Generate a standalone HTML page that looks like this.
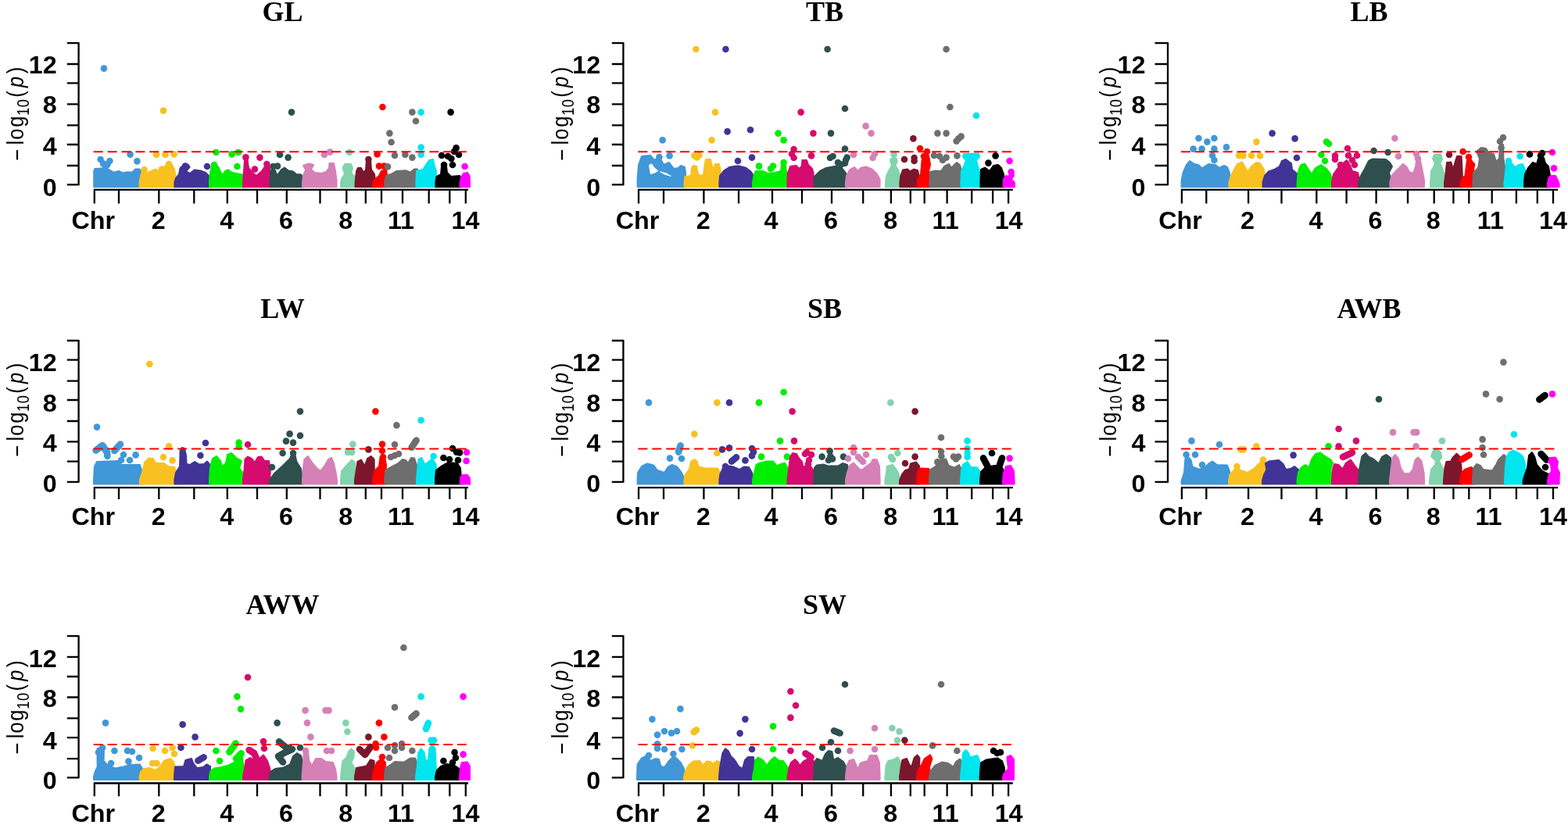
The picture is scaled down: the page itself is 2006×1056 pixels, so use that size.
<!DOCTYPE html>
<html lang="en">
<head>
<meta charset="utf-8">
<title>Manhattan plots</title>
<style>
html,body{margin:0;padding:0;background:#fff}
body{width:2006px;height:1056px;overflow:hidden}
svg{display:block}
text{fill:#000}
.b{font-family:"Liberation Sans",sans-serif;font-weight:bold;font-size:30.5px}
.r{font-family:"Liberation Sans",sans-serif;font-size:30px}
.sub{font-size:21.5px}
.t{font-family:"Liberation Serif",serif;font-weight:bold;font-size:36px}
</style>
</head>
<body>
<svg width="2006" height="1056" viewBox="0 0 2006 1056">
<rect width="2006" height="1056" fill="#fff"/>
<g transform="translate(0 0)">
<g fill="#4197d8"><path d="M120.2 239.2L120.2 219L121.4 216L130.6 215.6L135 217L140 217.4L145 220.6L152 219L157.4 221.4L163 220.2L169 220.6L173 216.6L178.6 216.6L180 219L180 239.2Z" stroke="#4197d8" stroke-width="2" stroke-linejoin="round"/><circle cx="133" cy="87.6" r="4.3"/><circle cx="166.6" cy="197.6" r="4.3"/><circle cx="175.4" cy="206.4" r="4.3"/><circle cx="128.6" cy="204" r="4.3"/><circle cx="140.4" cy="206" r="4.3"/><circle cx="132" cy="209.4" r="4.3"/><circle cx="137.4" cy="210.6" r="4.3"/><circle cx="135" cy="214.6" r="4.3"/></g>
<g fill="#f8c120"><path d="M178.6 239.2L178.6 232L181 222L189 221L194 218.6L199 216.6L203 219L209 215L213 211L220 211L223 217L224.6 225L224.6 239.2Z" stroke="#f8c120" stroke-width="2" stroke-linejoin="round"/><circle cx="209" cy="141.6" r="4.3"/><circle cx="200" cy="198" r="4.3"/><circle cx="211.4" cy="198" r="4.3"/><circle cx="222.6" cy="197.4" r="4.3"/><circle cx="184.6" cy="217.4" r="4.3"/><circle cx="216" cy="210" r="4.3"/><circle cx="207" cy="216.6" r="4.3"/></g>
<g fill="#413496"><path d="M223.4 239.2L223.4 233L225 228L229 223L230.6 215L235 211.4L241 211L242.6 214L238 219L243 222L249 217.4L257 218.6L263 221L268 226L270 229L270 239.2Z" stroke="#413496" stroke-width="2" stroke-linejoin="round"/><circle cx="237" cy="212.6" r="4.3"/><circle cx="265" cy="213" r="4.3"/></g>
<g fill="#00ee00"><path d="M268 239.2L268 232L269 221L271 213L277 211L280 215L282 220L285 224L288 219L292 217.4L297 221L305 222.6L312 224L314 228L314 239.2Z" stroke="#00ee00" stroke-width="2" stroke-linejoin="round"/><circle cx="276.4" cy="195" r="4.3"/><circle cx="296.6" cy="197.4" r="4.3"/><circle cx="305" cy="195" r="4.3"/><circle cx="274" cy="211" r="4.3"/><circle cx="303.4" cy="213" r="4.3"/></g>
<g fill="#d60b6f"><path d="M311 239.2L311 233L312 219L313 205L316.6 205L318 215L323 221L328 225L335 219L339 213L344 212L346 219L346 239.2Z" stroke="#d60b6f" stroke-width="2" stroke-linejoin="round"/><circle cx="314.4" cy="201.4" r="4.3"/><circle cx="332.4" cy="201.6" r="4.3"/><circle cx="326" cy="216.6" r="4.3"/><circle cx="341.4" cy="210" r="4.3"/></g>
<g fill="#2f4f4f"><path d="M345.6 239.2L345.6 233L346 219L352 220L355 224L360 217L364 214.6L369 218.6L375 219.4L379 223L385 223.4L387.6 227L387.6 239.2Z" stroke="#2f4f4f" stroke-width="2" stroke-linejoin="round"/><circle cx="373" cy="143.6" r="4.3"/><circle cx="358" cy="198" r="4.3"/><circle cx="368.6" cy="201.6" r="4.3"/><circle cx="349.4" cy="213" r="4.3"/><circle cx="355" cy="212.6" r="4.3"/><circle cx="349.4" cy="220" r="4.3"/></g>
<g fill="#d581b7"><path d="M387 239.2L387 233L388 225L391 217L388 212L395 209.4L401 211L398 217L403 221L411 222L417 220L421 215L421.4 209L427 209L429 219L430.6 231L430.6 239.2Z" stroke="#d581b7" stroke-width="2" stroke-linejoin="round"/><circle cx="415" cy="198" r="4.3"/><circle cx="422" cy="194.6" r="4.3"/></g>
<g fill="#83d3ad"><path d="M436 239.2L436 233L437 229L441 223L438.6 215L441 210L449 210L451 215L449.4 222L454 226L455.4 231L455.4 239.2Z" stroke="#83d3ad" stroke-width="2" stroke-linejoin="round"/><circle cx="447" cy="195" r="4.3"/></g>
<g fill="#7c162c"><path d="M454.6 239.2L454.6 233L456 219L458 215L462 215L465 221L468 217L469 205L474 205L475 217L479 223L480 231L480 239.2Z" stroke="#7c162c" stroke-width="2" stroke-linejoin="round"/><circle cx="471.4" cy="204" r="4.3"/></g>
<g fill="#ff0000"><path d="M477 239.2L477 234L479 230L485 225L488 219L494 217L495 223L492 229L494 237L494 239.2Z" stroke="#ff0000" stroke-width="2" stroke-linejoin="round"/><circle cx="489.4" cy="137" r="4.3"/><circle cx="482.6" cy="197.4" r="4.3"/><circle cx="485" cy="212.6" r="4.3"/><circle cx="491.4" cy="212.6" r="4.3"/></g>
<g fill="#6e6e6e"><path d="M492.4 239.2L492.4 233L494 225L501 222.6L507 219L519 218.2L525 220.6L530 216.6L534 216.6L534 239.2Z" stroke="#6e6e6e" stroke-width="2" stroke-linejoin="round"/><circle cx="527.4" cy="143.6" r="4.3"/><circle cx="532" cy="155" r="4.3"/><circle cx="498.4" cy="170.6" r="4.3"/><circle cx="500.6" cy="182" r="4.3"/><circle cx="505" cy="199" r="4.3"/><circle cx="518.4" cy="198" r="4.3"/><circle cx="527.4" cy="201.6" r="4.3"/><circle cx="496" cy="213.4" r="4.3"/></g>
<g fill="#00e5ee"><path d="M532.4 239.2L532.4 233L533 219L541 217L545 211L549 205L554 204L556 213L558 219L558 239.2Z" stroke="#00e5ee" stroke-width="2" stroke-linejoin="round"/><circle cx="538.6" cy="143.6" r="4.3"/><circle cx="538.6" cy="188.6" r="4.3"/><circle cx="538.6" cy="198" r="4.3"/></g>
<g fill="#000000"><path d="M557.4 239.2L557.4 233L558.6 226L564 223L565 213L571 213L572 221L577 226L588 225L590 229L590 239.2Z" stroke="#000000" stroke-width="2" stroke-linejoin="round"/><circle cx="576.6" cy="143.6" r="4.3"/><circle cx="583.6" cy="189.4" r="4.3"/><circle cx="581" cy="194" r="4.3"/><circle cx="587" cy="198" r="4.3"/><circle cx="565" cy="199" r="4.3"/><circle cx="573" cy="200" r="4.3"/><circle cx="568" cy="211" r="4.3"/><circle cx="579" cy="211" r="4.3"/><circle cx="577.4" cy="203" r="4.3"/></g>
<g fill="#ff00ff"><path d="M588.6 239.2L588.6 234L590 227L593 222L598 221L600.6 225L601 234L601 239.2Z" stroke="#ff00ff" stroke-width="2" stroke-linejoin="round"/><circle cx="594.6" cy="213" r="4.3"/></g>
<path d="M119.7 194.2 H596.7" stroke="#ff0000" stroke-width="2" stroke-dasharray="12 5.9" fill="none"/>
<path d="M100.6 54.2 V237.3M85.8 236.3 H100.6M85.8 212 H100.6M85.8 185 H100.6M85.8 160.4 H100.6M85.8 133.3 H100.6M85.8 106.3 H100.6M85.8 82 H100.6M85.8 55.2 H100.6M119.8 242.9 H599M120.8 242.9 V260.4M152 242.9 V260.4M203.3 242.9 V260.4M248.3 242.9 V260.4M290.8 242.9 V260.4M329 242.9 V260.4M366.8 242.9 V260.4M409.5 242.9 V260.4M443.3 242.9 V260.4M467.8 242.9 V260.4M488 242.9 V260.4M515 242.9 V260.4M548.7 242.9 V260.4M575.3 242.9 V260.4M595.8 242.9 V260.4" stroke="#000" stroke-width="2.3" fill="none"/>
<text class="b" transform="translate(72.6 251.2) scale(1.06 1)" text-anchor="end">0</text>
<text class="b" transform="translate(72.6 198.4) scale(1.06 1)" text-anchor="end">4</text>
<text class="b" transform="translate(72.6 145.3) scale(1.06 1)" text-anchor="end">8</text>
<text class="b" transform="translate(72.6 94.4) scale(1.06 1)" text-anchor="end">12</text>
<text class="b" transform="translate(119.3 293.3) scale(1.06 1)" text-anchor="middle">Chr</text>
<text class="b" transform="translate(202.8 293.3) scale(1.06 1)" text-anchor="middle">2</text>
<text class="b" transform="translate(290.3 293.3) scale(1.06 1)" text-anchor="middle">4</text>
<text class="b" transform="translate(366 293.3) scale(1.06 1)" text-anchor="middle">6</text>
<text class="b" transform="translate(442.3 293.3) scale(1.06 1)" text-anchor="middle">8</text>
<text class="b" transform="translate(513 293.3) scale(1.06 1)" text-anchor="middle">11</text>
<text class="b" transform="translate(595.4 293.3) scale(1.06 1)" text-anchor="middle">14</text>
<text class="r" transform="translate(29.8 206.1) rotate(-90) scale(0.85 1)" x="0.4 24.3 32.3 50.9" dy="2 -2 0 0">−log<tspan class="sub" x="68.5 81" dy="7">10</tspan><tspan x="95.7" dy="-7">(</tspan><tspan font-style="italic" x="110.7">p</tspan><tspan x="131.7">)</tspan></text>
<text class="t" x="361.5" y="26.8" text-anchor="middle">GL</text>
</g>
<g transform="translate(696.8 0)">
<g fill="#4197d8"><path d="M118.8 239.2L118.8 229L120.2 211L124.2 200L135.2 199L140.2 205L144.2 203L148.2 203L152.2 211L159.2 208L165.2 216L171.2 215L174.2 212L179.2 214L180.2 221L180.2 239.2Z" stroke="#4197d8" stroke-width="2" stroke-linejoin="round"/><path d="M133.6 211.4L136.8 209.8L140 214.6L144.8 218.6L141.2 221L135.6 222.6Z" fill="#fff" stroke="#fff" stroke-width="1" stroke-linejoin="round"/><path d="M147.6 219.8L155.2 221.8L161.6 225.4L154.4 223.4Z" fill="#fff" stroke="#fff" stroke-width="1" stroke-linejoin="round"/><circle cx="150.8" cy="179.4" r="4.3"/><circle cx="146.6" cy="201" r="4.3"/><circle cx="159.8" cy="199.4" r="4.3"/></g>
<g fill="#f8c120"><path d="M178.8 239.2L178.8 233L179.6 226L187.2 225L188.2 215L190.2 212L194.2 212.6L195.6 221L198.2 225L203.2 224L204.8 211L206.2 204L212.2 204L214.2 213L217.2 215L218.2 210L223.2 210L224.8 217L225.2 233L225.2 239.2Z" stroke="#f8c120" stroke-width="2" stroke-linejoin="round"/><circle cx="193.6" cy="63" r="4.3"/><circle cx="218.2" cy="143.6" r="4.3"/><circle cx="213.8" cy="179.4" r="4.3"/><circle cx="191.6" cy="199.4" r="4.3"/><circle cx="197.6" cy="198.6" r="4.3"/><circle cx="194.8" cy="201.4" r="4.3"/></g>
<g fill="#413496"><path d="M223.6 239.2L223.6 233L224.2 225L229.2 218.6L236.2 214L245.2 212.6L249.2 212.6L257.2 214.6L264.2 220L267.6 226L267.6 239.2Z" stroke="#413496" stroke-width="2" stroke-linejoin="round"/><circle cx="231.6" cy="63" r="4.3"/><circle cx="233.8" cy="168.4" r="4.3"/><circle cx="263.2" cy="166.2" r="4.3"/><circle cx="247.2" cy="206" r="4.3"/><circle cx="265.2" cy="201.6" r="4.3"/></g>
<g fill="#00ee00"><path d="M266.2 239.2L266.2 234L267.6 225L270.2 219L279.2 219L285.2 222L295.2 221L302.2 219L303.2 211L308.2 211L309.2 221L311.2 225L311.2 239.2Z" stroke="#00ee00" stroke-width="2" stroke-linejoin="round"/><circle cx="298.8" cy="170.6" r="4.3"/><circle cx="305.8" cy="179.4" r="4.3"/><circle cx="274.2" cy="212.6" r="4.3"/><circle cx="292.2" cy="212.6" r="4.3"/><circle cx="289.2" cy="216" r="4.3"/><circle cx="305.8" cy="208" r="4.3"/></g>
<g fill="#d60b6f"><path d="M310.6 239.2L310.6 233L311.2 221L314.2 213L322.2 212L325.2 216L328.8 213L329.6 205L335.2 205L337.2 211L342.2 216L343.8 221L343.8 239.2Z" stroke="#d60b6f" stroke-width="2" stroke-linejoin="round"/><circle cx="327.8" cy="143.6" r="4.3"/><circle cx="343.6" cy="170.6" r="4.3"/><circle cx="318.8" cy="191" r="4.3"/><circle cx="316.2" cy="197" r="4.3"/><circle cx="318.8" cy="202" r="4.3"/><circle cx="341.2" cy="199.4" r="4.3"/></g>
<g fill="#2f4f4f"><path d="M344.6 239.2L344.6 233L345.2 226L352.2 219L360.2 215L373.2 212.6L380.2 215L384.2 220L386.8 225L386.8 239.2Z" stroke="#2f4f4f" stroke-width="2" stroke-linejoin="round"/><circle cx="361.8" cy="63" r="4.3"/><circle cx="384.2" cy="139" r="4.3"/><circle cx="366.2" cy="170.6" r="4.3"/><circle cx="384.2" cy="190.6" r="4.3"/><circle cx="368.8" cy="200" r="4.3"/><circle cx="365.2" cy="202" r="4.3"/><circle cx="386.8" cy="201.6" r="4.3"/><circle cx="375.2" cy="208" r="4.3"/><circle cx="384.2" cy="209" r="4.3"/><circle cx="385.2" cy="205" r="4.3"/><circle cx="379.2" cy="210.6" r="4.3"/></g>
<g fill="#d581b7"><path d="M385.2 239.2L385.2 233L386.2 225L390.2 217.4L396.2 214L400.8 219L404.2 215L411.2 213.4L419.2 216.6L425.2 223L428.8 230L428.8 239.2Z" stroke="#d581b7" stroke-width="2" stroke-linejoin="round"/><circle cx="410.8" cy="161.4" r="4.3"/><circle cx="417.8" cy="170.6" r="4.3"/><circle cx="395.2" cy="198" r="4.3"/><circle cx="422.2" cy="197" r="4.3"/><circle cx="419.8" cy="202" r="4.3"/></g>
<g fill="#83d3ad"><path d="M436.2 239.2L436.2 233L437.2 225L441.2 217L444.2 212L442.2 205L443.2 203L450.2 203L450.8 207L448.8 212L452.2 218L455.2 227L455.2 239.2Z" stroke="#83d3ad" stroke-width="2" stroke-linejoin="round"/><circle cx="446.8" cy="198" r="4.3"/></g>
<g fill="#7c162c"><path d="M454.6 239.2L454.6 233L455.6 225L458.2 217.4L464.2 216.6L467.6 219.4L472.2 216.6L477.2 218L478.8 225L478.8 239.2Z" stroke="#7c162c" stroke-width="2" stroke-linejoin="round"/><circle cx="471.6" cy="177.4" r="4.3"/><circle cx="460.2" cy="204" r="4.3"/><circle cx="472.8" cy="202" r="4.3"/><circle cx="472.8" cy="206" r="4.3"/></g>
<g fill="#ff0000"><path d="M476.8 239.2L476.8 234L477.6 229L481.2 223L482.8 205L484.2 199L491.2 199L493.2 211L491.2 219L491.2 229L493.2 235L493.2 239.2Z" stroke="#ff0000" stroke-width="2" stroke-linejoin="round"/><circle cx="480.2" cy="190" r="4.3"/><circle cx="489.2" cy="194" r="4.3"/><circle cx="485.2" cy="200" r="4.3"/></g>
<g fill="#6e6e6e"><path d="M492.6 239.2L492.6 233L493.2 220L499.2 218.6L507.2 219L511.2 213L517.2 210L520.2 215L524.2 211L527.2 208L531.2 211L533.2 219L534.2 225L534.2 239.2Z" stroke="#6e6e6e" stroke-width="2" stroke-linejoin="round"/><circle cx="513.8" cy="63" r="4.3"/><circle cx="518.6" cy="137" r="4.3"/><circle cx="502.6" cy="170.6" r="4.3"/><circle cx="513.8" cy="170.6" r="4.3"/><circle cx="526.8" cy="180.6" r="4.3"/><circle cx="529.6" cy="177.4" r="4.3"/><circle cx="532.8" cy="174.6" r="4.3"/><circle cx="498.2" cy="199" r="4.3"/><circle cx="505.2" cy="200" r="4.3"/><circle cx="513.8" cy="201.6" r="4.3"/><circle cx="509.2" cy="205" r="4.3"/><circle cx="527.6" cy="199.4" r="4.3"/></g>
<g fill="#00e5ee"><path d="M532.6 239.2L532.6 233L533.2 219L536.2 213L539.2 205L535.2 201L536.2 197L555.2 196.6L556.2 201L552.2 205L554.2 213L557.2 221L558.2 229L558.2 239.2Z" stroke="#00e5ee" stroke-width="2" stroke-linejoin="round"/><circle cx="552.2" cy="148" r="4.3"/></g>
<g fill="#000000"><path d="M557.6 239.2L557.6 233L558.2 217L563.2 214.6L569.2 219L574.2 212L580.2 211L584.2 215L587.2 223L588.2 231L588.2 239.2Z" stroke="#000000" stroke-width="2" stroke-linejoin="round"/><circle cx="576.8" cy="199.4" r="4.3"/><circle cx="567.6" cy="208.6" r="4.3"/></g>
<g fill="#ff00ff"><path d="M586.8 239.2L586.8 235L587.2 229L590.2 225L594.2 226L595.2 221L599.2 219L600.2 225L597.2 229L601.2 234L601.2 239.2Z" stroke="#ff00ff" stroke-width="2" stroke-linejoin="round"/><circle cx="594.8" cy="206" r="4.3"/><circle cx="596.8" cy="220" r="4.3"/></g>
<path d="M119.6 194.2 H597.2" stroke="#ff0000" stroke-width="2" stroke-dasharray="12 5.9" fill="none"/>
<path d="M100.6 54.2 V237.3M86 236.3 H100.6M86 212 H100.6M86 185 H100.6M86 160.4 H100.6M86 133.3 H100.6M86 106.3 H100.6M86 82 H100.6M86 55.2 H100.6M119.2 242.9 H599M120.2 242.9 V260.4M152.2 242.9 V260.4M203.6 242.9 V260.4M248.2 242.9 V260.4M291.2 242.9 V260.4M329.2 242.9 V260.4M367.2 242.9 V260.4M407.4 242.9 V260.4M443.1 242.9 V260.4M468 242.9 V260.4M485.9 242.9 V260.4M514.8 242.9 V260.4M546.4 242.9 V260.4M573.3 242.9 V260.4M593.3 242.9 V260.4" stroke="#000" stroke-width="2.3" fill="none"/>
<text class="b" transform="translate(71.4 251.2) scale(1.06 1)" text-anchor="end">0</text>
<text class="b" transform="translate(71.4 198.4) scale(1.06 1)" text-anchor="end">4</text>
<text class="b" transform="translate(71.4 145.3) scale(1.06 1)" text-anchor="end">8</text>
<text class="b" transform="translate(71.4 94.4) scale(1.06 1)" text-anchor="end">12</text>
<text class="b" transform="translate(118.7 293.3) scale(1.06 1)" text-anchor="middle">Chr</text>
<text class="b" transform="translate(203 293.3) scale(1.06 1)" text-anchor="middle">2</text>
<text class="b" transform="translate(289.8 293.3) scale(1.06 1)" text-anchor="middle">4</text>
<text class="b" transform="translate(366.1 293.3) scale(1.06 1)" text-anchor="middle">6</text>
<text class="b" transform="translate(442.4 293.3) scale(1.06 1)" text-anchor="middle">8</text>
<text class="b" transform="translate(512.8 293.3) scale(1.06 1)" text-anchor="middle">11</text>
<text class="b" transform="translate(593.8 293.3) scale(1.06 1)" text-anchor="middle">14</text>
<text class="r" transform="translate(29.8 206.1) rotate(-90) scale(0.85 1)" x="0.4 24.3 32.3 50.9" dy="2 -2 0 0">−log<tspan class="sub" x="68.5 81" dy="7">10</tspan><tspan x="95.7" dy="-7">(</tspan><tspan font-style="italic" x="110.7">p</tspan><tspan x="131.7">)</tspan></text>
<text class="t" x="358.3" y="26.8" text-anchor="middle">TB</text>
</g>
<g transform="translate(1393.4 0)">
<g fill="#4197d8"><path d="M118.2 239.2L118.2 231L120.2 221L124.6 211L128.6 206L134.6 210L139.6 211L144.6 215.4L152.6 210L161.6 211L166.6 215L172.6 212L176.6 214L179.6 221L179.6 239.2Z" stroke="#4197d8" stroke-width="2" stroke-linejoin="round"/><circle cx="140" cy="177" r="4.3"/><circle cx="160" cy="177" r="4.3"/><circle cx="151" cy="181.6" r="4.3"/><circle cx="133.2" cy="190.6" r="4.3"/><circle cx="144.2" cy="190.6" r="4.3"/><circle cx="160" cy="190.6" r="4.3"/><circle cx="175.6" cy="188.4" r="4.3"/><circle cx="157.6" cy="199" r="4.3"/><circle cx="160" cy="205" r="4.3"/></g>
<g fill="#f8c120"><path d="M179 239.2L179 233L181.6 225L185.6 217L189.6 210L195.6 207.4L199.6 214L202.6 220L207.6 213L213.6 208L218.6 209L223.6 217L225 227L225 239.2Z" stroke="#f8c120" stroke-width="2" stroke-linejoin="round"/><circle cx="214" cy="181.6" r="4.3"/><circle cx="191.6" cy="199" r="4.3"/><circle cx="197" cy="199.4" r="4.3"/><circle cx="207.6" cy="199" r="4.3"/><circle cx="218.6" cy="199.4" r="4.3"/></g>
<g fill="#413496"><path d="M222.2 239.2L222.2 233L224.6 225L229.6 219.4L237.6 216.6L243.6 213L246.6 206L251.6 204L258.6 209.4L259.6 217L265.6 222L267.6 227L267.6 239.2Z" stroke="#413496" stroke-width="2" stroke-linejoin="round"/><circle cx="234.2" cy="170.6" r="4.3"/><circle cx="263.2" cy="177.4" r="4.3"/><circle cx="265.6" cy="202" r="4.3"/></g>
<g fill="#00ee00"><path d="M266.2 239.2L266.2 234L267.6 219L270.6 211.4L275.6 209.4L280.6 217L284.6 223L289.6 215L296.6 211L303.6 216L308.6 223L311.6 231L311.6 239.2Z" stroke="#00ee00" stroke-width="2" stroke-linejoin="round"/><circle cx="303.6" cy="181.6" r="4.3"/><circle cx="306.6" cy="184" r="4.3"/><circle cx="297" cy="198" r="4.3"/><circle cx="301.6" cy="206" r="4.3"/></g>
<g fill="#d60b6f"><path d="M310.6 239.2L310.6 233L312.6 223L317.6 216L323.6 210L329.6 205L333.6 211L336.6 219L343.6 221L345.6 229L345.6 239.2Z" stroke="#d60b6f" stroke-width="2" stroke-linejoin="round"/><circle cx="330.6" cy="190" r="4.3"/><circle cx="314.6" cy="199.4" r="4.3"/><circle cx="331.6" cy="199" r="4.3"/><circle cx="342.6" cy="199" r="4.3"/><circle cx="314.6" cy="204" r="4.3"/><circle cx="336.6" cy="205" r="4.3"/><circle cx="339.6" cy="211" r="4.3"/><circle cx="321.6" cy="211" r="4.3"/></g>
<g fill="#2f4f4f"><path d="M344.6 239.2L344.6 233L347.6 225L352.6 216L357.6 206L362.6 203.4L379.6 204L384.6 208L387.6 213L383.6 221L386.6 231L386.6 239.2Z" stroke="#2f4f4f" stroke-width="2" stroke-linejoin="round"/><circle cx="364.2" cy="193" r="4.3"/><circle cx="382.2" cy="195" r="4.3"/></g>
<g fill="#d581b7"><path d="M385 239.2L385 233L387.6 224L394.6 217L401.6 210L405.6 213L409.6 220L414.6 222L417.6 213L419 205L423.6 206L425.6 215L428.6 231L428.6 239.2Z" stroke="#d581b7" stroke-width="2" stroke-linejoin="round"/><circle cx="391" cy="177" r="4.3"/><circle cx="395.6" cy="200" r="4.3"/><circle cx="418.6" cy="197" r="4.3"/><circle cx="420.6" cy="203" r="4.3"/></g>
<g fill="#83d3ad"><path d="M436.6 239.2L436.6 234L437.6 219L440.6 214L442.6 209L439.6 203L441.6 198L449.6 197.4L451.6 203L449 209L451.6 215L453.6 221L454.6 231L454.6 239.2Z" stroke="#83d3ad" stroke-width="2" stroke-linejoin="round"/></g>
<g fill="#7c162c"><path d="M454.6 239.2L454.6 234L456.2 221L457.6 208L463 207.4L465.6 217L469 205L470.6 200L476.2 200L477 215L477.6 231L477.6 239.2Z" stroke="#7c162c" stroke-width="2" stroke-linejoin="round"/><circle cx="460.6" cy="198" r="4.3"/></g>
<g fill="#ff0000"><path d="M475 239.2L475 235L476.6 229L481 225L482.2 215L483.6 205L487.6 203L492.6 211L491.6 219L490.6 233L490.6 239.2Z" stroke="#ff0000" stroke-width="2" stroke-linejoin="round"/><circle cx="478.2" cy="194" r="4.3"/><circle cx="485.6" cy="201" r="4.3"/><circle cx="489.6" cy="211" r="4.3"/></g>
<g fill="#6e6e6e"><path d="M491 239.2L491 233L491.6 221L497.6 215L499.6 203L495.6 194L501.6 189L507.6 190L511.6 196L517.6 197L520.6 207L524.6 203L525.6 185L529.6 185L530 203L531.6 213L533.6 225L533.6 239.2Z" stroke="#6e6e6e" stroke-width="2" stroke-linejoin="round"/><circle cx="529.6" cy="176" r="4.3"/><circle cx="525.6" cy="181" r="4.3"/><circle cx="527.2" cy="189" r="4.3"/></g>
<g fill="#00e5ee"><path d="M531 239.2L531 234L532.6 221L533.6 209L536.6 204L540.6 209L544.6 214L549.6 211L554.6 210L557.6 217L558.6 233L558.6 239.2Z" stroke="#00e5ee" stroke-width="2" stroke-linejoin="round"/><circle cx="551.2" cy="200" r="4.3"/><circle cx="536.6" cy="206" r="4.3"/></g>
<g fill="#000000"><path d="M556.6 239.2L556.6 234L557.6 223L561.6 215L567.6 208L572.6 210L574.6 203L581.6 202L583.6 209L587.6 213L589.6 225L589.6 239.2Z" stroke="#000000" stroke-width="2" stroke-linejoin="round"/><circle cx="563.6" cy="197.4" r="4.3"/><circle cx="577.6" cy="199" r="4.3"/><circle cx="579.6" cy="196" r="4.3"/></g>
<g fill="#ff00ff"><path d="M586.6 239.2L586.6 235L587.6 228L590.6 225L596.6 225L599.6 231L601.2 235L601.2 239.2Z" stroke="#ff00ff" stroke-width="2" stroke-linejoin="round"/><circle cx="592.6" cy="195" r="4.3"/><circle cx="594.6" cy="215.4" r="4.3"/></g>
<path d="M117.6 194.2 H595.2" stroke="#ff0000" stroke-width="2" stroke-dasharray="12 5.9" fill="none"/>
<path d="M100.6 54.2 V237.3M84.1 236.3 H100.6M84.1 212 H100.6M84.1 185 H100.6M84.1 160.4 H100.6M84.1 133.3 H100.6M84.1 106.3 H100.6M84.1 82 H100.6M84.1 55.2 H100.6M117.5 242.9 H599.7M118.5 242.9 V260.4M149.9 242.9 V260.4M203.7 242.9 V260.4M246.1 242.9 V260.4M290.9 242.9 V260.4M329.2 242.9 V260.4M367.2 242.9 V260.4M407.6 242.9 V260.4M441.3 242.9 V260.4M466 242.9 V260.4M485.9 242.9 V260.4M515.3 242.9 V260.4M546.5 242.9 V260.4M573.4 242.9 V260.4M593.6 242.9 V260.4" stroke="#000" stroke-width="2.3" fill="none"/>
<text class="b" transform="translate(72 251.2) scale(1.06 1)" text-anchor="end">0</text>
<text class="b" transform="translate(72 198.4) scale(1.06 1)" text-anchor="end">4</text>
<text class="b" transform="translate(72 145.3) scale(1.06 1)" text-anchor="end">8</text>
<text class="b" transform="translate(72 94.4) scale(1.06 1)" text-anchor="end">12</text>
<text class="b" transform="translate(116.6 293.3) scale(1.06 1)" text-anchor="middle">Chr</text>
<text class="b" transform="translate(202.7 293.3) scale(1.06 1)" text-anchor="middle">2</text>
<text class="b" transform="translate(290.2 293.3) scale(1.06 1)" text-anchor="middle">4</text>
<text class="b" transform="translate(366.2 293.3) scale(1.06 1)" text-anchor="middle">6</text>
<text class="b" transform="translate(440.4 293.3) scale(1.06 1)" text-anchor="middle">8</text>
<text class="b" transform="translate(513.5 293.3) scale(1.06 1)" text-anchor="middle">11</text>
<text class="b" transform="translate(593.6 293.3) scale(1.06 1)" text-anchor="middle">14</text>
<text class="r" transform="translate(34.3 206.1) rotate(-90) scale(0.85 1)" x="0.4 24.3 32.3 50.9" dy="2 -2 0 0">−log<tspan class="sub" x="68.5 81" dy="7">10</tspan><tspan x="95.7" dy="-7">(</tspan><tspan font-style="italic" x="110.7">p</tspan><tspan x="131.7">)</tspan></text>
<text class="t" x="358" y="26.8" text-anchor="middle">LB</text>
</g>
<g transform="translate(0 0)">
<g fill="#4197d8"><path d="M120 619.5L120 613L121 597L124 591L151 590L155 595L179 595L182 605L182 619.5Z" stroke="#4197d8" stroke-width="2" stroke-linejoin="round"/><circle cx="124" cy="546.6" r="4.3"/><circle cx="158" cy="582" r="4.3"/><circle cx="173.6" cy="582.4" r="4.3"/><circle cx="166" cy="589" r="4.3"/><circle cx="155" cy="589" r="4.3"/><path d="M122.6 576.6L131 570L137 579L137.4 584" fill="none" stroke="#4197d8" stroke-width="8.6" stroke-linecap="round" stroke-linejoin="round"/><path d="M146.4 577L154 568.6" fill="none" stroke="#4197d8" stroke-width="8.6" stroke-linecap="round" stroke-linejoin="round"/></g>
<g fill="#f8c120"><path d="M179 619.5L179 614L182 605L185 592L190 586.6L196 587L199 592.6L210 593L215 597L223 598L226 605L226 619.5Z" stroke="#f8c120" stroke-width="2" stroke-linejoin="round"/><circle cx="191.4" cy="466" r="4.3"/><circle cx="216" cy="571.4" r="4.3"/><circle cx="209" cy="585" r="4.3"/><circle cx="220.6" cy="589.4" r="4.3"/></g>
<g fill="#413496"><path d="M223.4 619.5L223.4 614L225 605L230 597L230.6 577L233 573L236 574L238 583L238.6 594L243 595L249 591L255 594.6L261 594L265 590.6L268.6 595L269.4 613L269.4 619.5Z" stroke="#413496" stroke-width="2" stroke-linejoin="round"/><circle cx="263" cy="567" r="4.3"/><circle cx="256.4" cy="583" r="4.3"/></g>
<g fill="#00ee00"><path d="M268 619.5L268 614L269 599L272 587L277 584L282 590L284 597L289 593L291 582L296 580L302 586L309 590L306 599L313 608L311 614L311 619.5Z" stroke="#00ee00" stroke-width="2" stroke-linejoin="round"/><circle cx="305.6" cy="566.6" r="4.3"/><circle cx="305.6" cy="572" r="4.3"/></g>
<g fill="#d60b6f"><path d="M311 619.5L311 614L312.6 601L313.4 588L317 584.6L322 587L326 592L330 585L334.6 584.6L338.6 590L344 590L346 601L345 614L345 619.5Z" stroke="#d60b6f" stroke-width="2" stroke-linejoin="round"/><circle cx="317" cy="569" r="4.3"/></g>
<g fill="#2f4f4f"><path d="M345 619.5L345 614L351 606L363 595L371 587L373 582L377.4 582L379.4 591L385 600L387 613L387 619.5Z" stroke="#2f4f4f" stroke-width="2" stroke-linejoin="round"/><circle cx="384" cy="526.6" r="4.3"/><circle cx="370.6" cy="555.4" r="4.3"/><circle cx="384" cy="557.6" r="4.3"/><circle cx="366" cy="564.6" r="4.3"/><circle cx="375" cy="566.6" r="4.3"/><circle cx="361.6" cy="580" r="4.3"/><circle cx="375" cy="580" r="4.3"/><circle cx="348" cy="598" r="4.3"/></g>
<g fill="#d581b7"><path d="M387 619.5L387 614L388 599L389.4 588L394 584L399 592L405 599L410 603L415 597L420 588L424 586L427 593L430 607L431 614L431 619.5Z" stroke="#d581b7" stroke-width="2" stroke-linejoin="round"/></g>
<g fill="#83d3ad"><path d="M436 619.5L436 614L437 603L444 595L450 588.6L454 592L455 614L455 619.5Z" stroke="#83d3ad" stroke-width="2" stroke-linejoin="round"/><circle cx="451.4" cy="568.6" r="4.3"/><circle cx="445" cy="579" r="4.3"/><circle cx="450" cy="579" r="4.3"/></g>
<g fill="#7c162c"><path d="M454 619.5L454 614L456 601L457.4 591L462 588.6L466.6 596.6L470 587L474.6 584L478.6 588L479 614L479 619.5Z" stroke="#7c162c" stroke-width="2" stroke-linejoin="round"/><circle cx="471.4" cy="575.4" r="4.3"/></g>
<g fill="#ff0000"><path d="M477 619.5L477 615L479 603L485 597L486.6 585L492 585L494 595L493 614L493 619.5Z" stroke="#ff0000" stroke-width="2" stroke-linejoin="round"/><circle cx="480.4" cy="526.6" r="4.3"/><circle cx="489" cy="568.6" r="4.3"/><circle cx="489" cy="577" r="4.3"/><circle cx="490" cy="585" r="4.3"/></g>
<g fill="#6e6e6e"><path d="M492.4 619.5L492.4 614L493 602L501 597.4L509 593.4L515 588L519 589L522 593L526 586L530 586.6L533 595L534 614L534 619.5Z" stroke="#6e6e6e" stroke-width="2" stroke-linejoin="round"/><circle cx="507.4" cy="544.4" r="4.3"/><circle cx="505" cy="569" r="4.3"/><circle cx="510" cy="581" r="4.3"/><circle cx="500" cy="585" r="4.3"/><circle cx="505" cy="583" r="4.3"/><path d="M526.6 572.6L532.6 563.6" fill="none" stroke="#6e6e6e" stroke-width="8.6" stroke-linecap="round" stroke-linejoin="round"/></g>
<g fill="#00e5ee"><path d="M533 619.5L533 614L534.4 599L535.4 588L539.4 586L543.4 595L548 591.4L553 587.4L557.4 594L559 605L558 614L558 619.5Z" stroke="#00e5ee" stroke-width="2" stroke-linejoin="round"/><circle cx="538.6" cy="538" r="4.3"/><circle cx="554.6" cy="584" r="4.3"/></g>
<g fill="#000000"><path d="M557 619.5L557 614L558 602L565 596.6L573 592L585 593L589 599L590 614L590 619.5Z" stroke="#000000" stroke-width="2" stroke-linejoin="round"/><circle cx="579" cy="574" r="4.3"/><circle cx="584" cy="578.6" r="4.3"/><circle cx="588" cy="579.4" r="4.3"/><circle cx="567.4" cy="586" r="4.3"/><circle cx="575" cy="588" r="4.3"/><circle cx="586" cy="589" r="4.3"/></g>
<g fill="#ff00ff"><path d="M588.6 619.5L588.6 620L589 611L592 608L598 608L601 612L601 620L601 619.5Z" stroke="#ff00ff" stroke-width="2" stroke-linejoin="round"/><circle cx="597" cy="579" r="4.3"/><circle cx="596.6" cy="590" r="4.3"/></g>
<path d="M119.7 574.5 H596.7" stroke="#ff0000" stroke-width="2" stroke-dasharray="12 5.9" fill="none"/>
<path d="M100.6 435 V617.8M85.8 616.8 H100.6M85.8 590.7 H100.6M85.8 565.3 H100.6M85.8 539 H100.6M85.8 512 H100.6M85.8 487.7 H100.6M85.8 460.7 H100.6M85.8 436 H100.6M119.8 624.1 H599M120.8 624.1 V639.1M152 624.1 V639.1M203.3 624.1 V639.1M248.3 624.1 V639.1M290.8 624.1 V639.1M329 624.1 V639.1M366.8 624.1 V639.1M409.5 624.1 V639.1M443.3 624.1 V639.1M467.8 624.1 V639.1M488 624.1 V639.1M515 624.1 V639.1M548.7 624.1 V639.1M575.3 624.1 V639.1M595.8 624.1 V639.1" stroke="#000" stroke-width="2.3" fill="none"/>
<text class="b" transform="translate(72.6 629.9) scale(1.06 1)" text-anchor="end">0</text>
<text class="b" transform="translate(72.6 578) scale(1.06 1)" text-anchor="end">4</text>
<text class="b" transform="translate(72.6 526.6) scale(1.06 1)" text-anchor="end">8</text>
<text class="b" transform="translate(72.6 475.1) scale(1.06 1)" text-anchor="end">12</text>
<text class="b" transform="translate(119.3 672) scale(1.06 1)" text-anchor="middle">Chr</text>
<text class="b" transform="translate(202.8 672) scale(1.06 1)" text-anchor="middle">2</text>
<text class="b" transform="translate(290.3 672) scale(1.06 1)" text-anchor="middle">4</text>
<text class="b" transform="translate(366 672) scale(1.06 1)" text-anchor="middle">6</text>
<text class="b" transform="translate(442.3 672) scale(1.06 1)" text-anchor="middle">8</text>
<text class="b" transform="translate(513 672) scale(1.06 1)" text-anchor="middle">11</text>
<text class="b" transform="translate(595.4 672) scale(1.06 1)" text-anchor="middle">14</text>
<text class="r" transform="translate(29.8 585.1) rotate(-90) scale(0.85 1)" x="0.4 24.3 32.3 50.9" dy="2 -2 0 0">−log<tspan class="sub" x="68.5 81" dy="7">10</tspan><tspan x="95.7" dy="-7">(</tspan><tspan font-style="italic" x="110.7">p</tspan><tspan x="131.7">)</tspan></text>
<text class="t" x="361.5" y="406.5" text-anchor="middle">LW</text>
</g>
<g transform="translate(696.8 0)">
<g fill="#4197d8"><path d="M118.8 619.5L118.8 614L119.2 605L124.2 597L131.2 593.4L139.2 595.4L144.2 602L153.2 605L157.6 598L163.2 595L169.2 597.4L175.2 605L178.2 612L178.2 619.5Z" stroke="#4197d8" stroke-width="2" stroke-linejoin="round"/><circle cx="133.2" cy="515.4" r="4.3"/><circle cx="160.2" cy="586.6" r="4.3"/><circle cx="175.2" cy="587" r="4.3"/><path d="M173.8 570.4L171.2 578.6" fill="none" stroke="#4197d8" stroke-width="8.6" stroke-linecap="round" stroke-linejoin="round"/></g>
<g fill="#f8c120"><path d="M178.6 619.5L178.6 614L179.6 608L185.2 600.6L187.2 591L191.6 588L195.2 591L196.8 597.4L205.2 599.4L221.2 599.4L224.6 605L224.8 614L224.8 619.5Z" stroke="#f8c120" stroke-width="2" stroke-linejoin="round"/><circle cx="220.6" cy="515.4" r="4.3"/><circle cx="191.6" cy="555.6" r="4.3"/><circle cx="220.6" cy="580" r="4.3"/></g>
<g fill="#413496"><path d="M223.6 619.5L223.6 614L224.6 607L228.2 599L233.2 596L241.2 597.4L249.2 601L255.2 597.4L261.2 598L265.2 605L267.6 614L267.6 619.5Z" stroke="#413496" stroke-width="2" stroke-linejoin="round"/><circle cx="236.2" cy="515.4" r="4.3"/><circle cx="227.2" cy="575.4" r="4.3"/><circle cx="236.2" cy="573.4" r="4.3"/><circle cx="265.2" cy="574" r="4.3"/><circle cx="267.2" cy="578.6" r="4.3"/><circle cx="265.2" cy="583.4" r="4.3"/><circle cx="256.6" cy="589.4" r="4.3"/><circle cx="231.2" cy="597" r="4.3"/><path d="M239.2 590.6L245.2 585.4" fill="none" stroke="#413496" stroke-width="8.6" stroke-linecap="round" stroke-linejoin="round"/></g>
<g fill="#00ee00"><path d="M266.2 619.5L266.2 614L268.2 605L270.8 595L275.2 592.6L283.2 590.6L292.2 590.6L297.2 596.6L302.2 594L307.2 592.6L310.8 599L311.2 614L311.2 619.5Z" stroke="#00ee00" stroke-width="2" stroke-linejoin="round"/><circle cx="305.8" cy="502" r="4.3"/><circle cx="274.2" cy="515.4" r="4.3"/><circle cx="301.2" cy="564.4" r="4.3"/><circle cx="277.2" cy="584.6" r="4.3"/><circle cx="310.2" cy="584.6" r="4.3"/></g>
<g fill="#d60b6f"><path d="M310.6 619.5L310.6 614L312.2 601L314.2 585L317.2 580L322.2 581L324.8 586L329.2 591L330.8 598L335.2 596L341.2 598L345.2 605L344.2 614L344.2 619.5Z" stroke="#d60b6f" stroke-width="2" stroke-linejoin="round"/><circle cx="316.8" cy="526.6" r="4.3"/><circle cx="319.2" cy="564.4" r="4.3"/><circle cx="335.2" cy="579" r="4.3"/><circle cx="341.2" cy="582" r="4.3"/><circle cx="338.2" cy="589" r="4.3"/><circle cx="333.2" cy="581" r="4.3"/><circle cx="337.2" cy="594" r="4.3"/></g>
<g fill="#2f4f4f"><path d="M344.2 619.5L344.2 614L345.2 599L348.2 595.4L357.2 594.6L363.2 596.6L375.2 596.6L381.2 593L387.2 595L388.2 601L385.2 607L385.2 614L385.2 619.5Z" stroke="#2f4f4f" stroke-width="2" stroke-linejoin="round"/><circle cx="364.8" cy="577.4" r="4.3"/><circle cx="365.6" cy="584" r="4.3"/><circle cx="368.2" cy="587.4" r="4.3"/><circle cx="363.2" cy="589" r="4.3"/><circle cx="354.8" cy="584.6" r="4.3"/><circle cx="382.2" cy="584.6" r="4.3"/></g>
<g fill="#d581b7"><path d="M385.2 619.5L385.2 614L387.2 605L390.2 596L395.2 592.6L401.2 599L405.2 602L411.2 597.4L417.2 593L420.2 588L425.2 588.6L428.2 597L428.8 614L428.8 619.5Z" stroke="#d581b7" stroke-width="2" stroke-linejoin="round"/><circle cx="395.2" cy="573" r="4.3"/><circle cx="395.2" cy="579" r="4.3"/><circle cx="411.2" cy="582" r="4.3"/><circle cx="388.2" cy="587" r="4.3"/><circle cx="401.2" cy="585" r="4.3"/><circle cx="407.2" cy="591" r="4.3"/><circle cx="404.2" cy="588" r="4.3"/></g>
<g fill="#83d3ad"><path d="M435.6 619.5L435.6 614L437.2 605L438.2 596.6L445.2 595L449.2 600L452.2 605L454.8 614L454.8 619.5Z" stroke="#83d3ad" stroke-width="2" stroke-linejoin="round"/><circle cx="442.6" cy="515.4" r="4.3"/><circle cx="451.6" cy="580" r="4.3"/><circle cx="443.2" cy="585" r="4.3"/><circle cx="445.2" cy="588" r="4.3"/></g>
<g fill="#7c162c"><path d="M454.2 619.5L454.2 615L457.2 607L461.2 602L466.2 600.6L468.2 593.4L475.2 591.4L479.2 596.6L478.8 615L478.8 619.5Z" stroke="#7c162c" stroke-width="2" stroke-linejoin="round"/><circle cx="473.8" cy="526.6" r="4.3"/><circle cx="473.8" cy="584.6" r="4.3"/><circle cx="461.2" cy="593" r="4.3"/></g>
<g fill="#ff0000"><path d="M476.2 619.5L476.2 615L477.2 604L480.2 599.4L491.2 600L493.2 605L493.2 615L493.2 619.5Z" stroke="#ff0000" stroke-width="2" stroke-linejoin="round"/></g>
<g fill="#6e6e6e"><path d="M492.2 619.5L492.2 615L493.2 601L500.2 597L504.2 590L513.2 587.4L516.8 596L524.2 598.6L530.2 595L533.2 601L533.2 615L533.2 619.5Z" stroke="#6e6e6e" stroke-width="2" stroke-linejoin="round"/><circle cx="507.2" cy="560" r="4.3"/><circle cx="507.2" cy="578" r="4.3"/><circle cx="523.2" cy="584.6" r="4.3"/><circle cx="529.2" cy="584.6" r="4.3"/><circle cx="526.2" cy="587.4" r="4.3"/><circle cx="502.6" cy="591.4" r="4.3"/><circle cx="507.6" cy="584" r="4.3"/></g>
<g fill="#00e5ee"><path d="M532.2 619.5L532.2 615L533.2 603L535.2 594.6L540.8 591L545.2 598L553.2 598.6L557.2 604L557.6 615L557.6 619.5Z" stroke="#00e5ee" stroke-width="2" stroke-linejoin="round"/><circle cx="540.8" cy="564.4" r="4.3"/><circle cx="540.8" cy="574" r="4.3"/><circle cx="540.8" cy="580" r="4.3"/><circle cx="540.8" cy="585" r="4.3"/></g>
<g fill="#000000"><path d="M557.2 619.5L557.2 615L558.2 604L565.2 597L577.2 596L585.2 598.6L588.2 605L588.2 615L588.2 619.5Z" stroke="#000000" stroke-width="2" stroke-linejoin="round"/><circle cx="572.2" cy="580" r="4.3"/><path d="M561.2 586.4L566.2 596" fill="none" stroke="#000000" stroke-width="8.6" stroke-linecap="round" stroke-linejoin="round"/><path d="M585.2 586.4L582.2 595" fill="none" stroke="#000000" stroke-width="8.6" stroke-linecap="round" stroke-linejoin="round"/></g>
<g fill="#ff00ff"><path d="M586.2 619.5L586.2 615L587.2 605L590.2 597L596.2 596L600.2 603L600.8 615L600.8 619.5Z" stroke="#ff00ff" stroke-width="2" stroke-linejoin="round"/><circle cx="594.8" cy="586.6" r="4.3"/></g>
<path d="M119.6 574.5 H597.2" stroke="#ff0000" stroke-width="2" stroke-dasharray="12 5.9" fill="none"/>
<path d="M100.6 435 V617.8M86 616.8 H100.6M86 590.7 H100.6M86 565.3 H100.6M86 539 H100.6M86 512 H100.6M86 487.7 H100.6M86 460.7 H100.6M86 436 H100.6M119.2 624.1 H599M120.2 624.1 V639.1M152.2 624.1 V639.1M203.6 624.1 V639.1M248.2 624.1 V639.1M291.2 624.1 V639.1M329.2 624.1 V639.1M367.2 624.1 V639.1M407.4 624.1 V639.1M443.1 624.1 V639.1M468 624.1 V639.1M485.9 624.1 V639.1M514.8 624.1 V639.1M546.4 624.1 V639.1M573.3 624.1 V639.1M593.3 624.1 V639.1" stroke="#000" stroke-width="2.3" fill="none"/>
<text class="b" transform="translate(71.4 629.9) scale(1.06 1)" text-anchor="end">0</text>
<text class="b" transform="translate(71.4 578) scale(1.06 1)" text-anchor="end">4</text>
<text class="b" transform="translate(71.4 526.6) scale(1.06 1)" text-anchor="end">8</text>
<text class="b" transform="translate(71.4 475.1) scale(1.06 1)" text-anchor="end">12</text>
<text class="b" transform="translate(118.7 672) scale(1.06 1)" text-anchor="middle">Chr</text>
<text class="b" transform="translate(203 672) scale(1.06 1)" text-anchor="middle">2</text>
<text class="b" transform="translate(289.8 672) scale(1.06 1)" text-anchor="middle">4</text>
<text class="b" transform="translate(366.1 672) scale(1.06 1)" text-anchor="middle">6</text>
<text class="b" transform="translate(442.4 672) scale(1.06 1)" text-anchor="middle">8</text>
<text class="b" transform="translate(512.8 672) scale(1.06 1)" text-anchor="middle">11</text>
<text class="b" transform="translate(593.8 672) scale(1.06 1)" text-anchor="middle">14</text>
<text class="r" transform="translate(29.8 585.1) rotate(-90) scale(0.85 1)" x="0.4 24.3 32.3 50.9" dy="2 -2 0 0">−log<tspan class="sub" x="68.5 81" dy="7">10</tspan><tspan x="95.7" dy="-7">(</tspan><tspan font-style="italic" x="110.7">p</tspan><tspan x="131.7">)</tspan></text>
<text class="t" x="358.3" y="406.5" text-anchor="middle">SB</text>
</g>
<g transform="translate(1393.4 0)">
<g fill="#4197d8"><path d="M118.2 619.5L118.2 615L121.6 605L123 587L126.6 585L130.2 589L132.2 597.4L140.6 600.6L147.6 599L153.6 593L157.6 590.6L163.6 595L176.6 595.4L180.2 605L178.6 615L178.6 619.5Z" stroke="#4197d8" stroke-width="2" stroke-linejoin="round"/><circle cx="131" cy="564.4" r="4.3"/><circle cx="166.6" cy="569" r="4.3"/><circle cx="124.2" cy="582" r="4.3"/><circle cx="135.6" cy="582" r="4.3"/><circle cx="144.6" cy="595" r="4.3"/></g>
<g fill="#f8c120"><path d="M178.6 619.5L178.6 615L180.2 607L184.6 602.6L188.6 597.4L193.6 602L202.6 605L211.6 599.4L216.6 594L222.6 589L225.6 593L225.6 615L225.6 619.5Z" stroke="#f8c120" stroke-width="2" stroke-linejoin="round"/><circle cx="194" cy="575.4" r="4.3"/><circle cx="197.6" cy="575.4" r="4.3"/><circle cx="214" cy="571.4" r="4.3"/><circle cx="222.6" cy="588.6" r="4.3"/><circle cx="189" cy="597" r="4.3"/></g>
<g fill="#413496"><path d="M221.6 619.5L221.6 615L223.6 608L227 601L225.6 593L229.6 590.6L242.6 589L248.2 594L251.6 601L257.6 600L262.6 597L267.6 601L268.2 615L268.2 619.5Z" stroke="#413496" stroke-width="2" stroke-linejoin="round"/><circle cx="261.2" cy="582.6" r="4.3"/></g>
<g fill="#00ee00"><path d="M266.2 619.5L266.2 615L267.6 605L271.6 598L276.6 595L281.6 598L284.6 588L289.6 581L295.6 579.4L301.6 584L308.6 588L311.6 592L309 601L310.6 615L310.6 619.5Z" stroke="#00ee00" stroke-width="2" stroke-linejoin="round"/><circle cx="306.2" cy="571.4" r="4.3"/></g>
<g fill="#d60b6f"><path d="M310.6 619.5L310.6 615L311.6 601L313.6 594L319 595L324.2 600.6L328.6 592.6L334.6 588.6L339 595L344.6 602L344.6 615L344.6 619.5Z" stroke="#d60b6f" stroke-width="2" stroke-linejoin="round"/><circle cx="319.2" cy="549" r="4.3"/><circle cx="341.6" cy="564.4" r="4.3"/><circle cx="319.2" cy="571.4" r="4.3"/><path d="M324.6 585L336.6 579.4" fill="none" stroke="#d60b6f" stroke-width="8.6" stroke-linecap="round" stroke-linejoin="round"/></g>
<g fill="#2f4f4f"><path d="M344.6 619.5L344.6 615L345.6 601L349 584L353.6 580L357.6 584.6L363.6 587.4L370.6 593.4L374.6 585L380.2 582L385.6 586L386.6 601L386.2 615L386.2 619.5Z" stroke="#2f4f4f" stroke-width="2" stroke-linejoin="round"/><circle cx="370.6" cy="511" r="4.3"/></g>
<g fill="#d581b7"><path d="M384.6 619.5L384.6 615L386.2 601L388.2 586L391.6 582L395.6 587L398.6 599L402.6 606L409.6 606.6L414.2 601L417 589L420.6 585.4L425 590L428.2 605L428.6 615L428.6 619.5Z" stroke="#d581b7" stroke-width="2" stroke-linejoin="round"/><circle cx="388.6" cy="553.4" r="4.3"/><circle cx="415.2" cy="553.4" r="4.3"/><circle cx="418.8" cy="553.4" r="4.3"/><circle cx="418.2" cy="571.4" r="4.3"/></g>
<g fill="#83d3ad"><path d="M435.6 619.5L435.6 615L437.6 601L442.6 595L443.6 590L437.6 584L439.6 578L444.6 574L449.6 579L451 585L447.6 590L450.6 596L454.6 605L455.6 615L455.6 619.5Z" stroke="#83d3ad" stroke-width="2" stroke-linejoin="round"/><circle cx="451.6" cy="564.4" r="4.3"/></g>
<g fill="#7c162c"><path d="M453.6 619.5L453.6 615L455 599L457 591L462.6 590.6L465 586L470.2 580.6L474.6 585L476.2 599L476.2 615L476.2 619.5Z" stroke="#7c162c" stroke-width="2" stroke-linejoin="round"/></g>
<g fill="#ff0000"><path d="M474.6 619.5L474.6 615L476.6 605L480.6 601L488.6 598L492.2 601L492.6 615L492.6 619.5Z" stroke="#ff0000" stroke-width="2" stroke-linejoin="round"/><path d="M477 588L486.2 582.4" fill="none" stroke="#ff0000" stroke-width="8.6" stroke-linecap="round" stroke-linejoin="round"/></g>
<g fill="#6e6e6e"><path d="M490.6 619.5L490.6 615L491.6 599L495.6 594L500.6 596L504 601L515.6 602.6L520.6 595L524 588L530.6 582L533.6 585L534 615L534 619.5Z" stroke="#6e6e6e" stroke-width="2" stroke-linejoin="round"/><circle cx="530" cy="463.6" r="4.3"/><circle cx="507.6" cy="504.4" r="4.3"/><circle cx="525.2" cy="511" r="4.3"/><circle cx="503.2" cy="562.4" r="4.3"/><circle cx="503.2" cy="573" r="4.3"/><circle cx="504.6" cy="582" r="4.3"/></g>
<g fill="#00e5ee"><path d="M531.6 619.5L531.6 615L532.6 597L534 585L537.6 579L542.6 576.6L548.6 579.4L554.6 584L558 595L557.6 615L557.6 619.5Z" stroke="#00e5ee" stroke-width="2" stroke-linejoin="round"/><circle cx="543.6" cy="556" r="4.3"/></g>
<g fill="#000000"><path d="M555.2 619.5L555.2 615L557.6 607L560.6 599L562.6 583L566.6 579L570 585L572.6 595L579.6 603L587.6 607L589.2 615L589.2 619.5Z" stroke="#000000" stroke-width="2" stroke-linejoin="round"/><path d="M576 511.4L583.2 506" fill="none" stroke="#000000" stroke-width="8.6" stroke-linecap="round" stroke-linejoin="round"/><path d="M578.2 581L585.2 588.6" fill="none" stroke="#000000" stroke-width="8.6" stroke-linecap="round" stroke-linejoin="round"/><circle cx="583.6" cy="598" r="4.3"/></g>
<g fill="#ff00ff"><path d="M586.6 619.5L586.6 615L587.6 609L591.6 603L590.6 595L587.6 591L589.6 586L596.6 585.4L599.6 591L598.6 599L601.6 605L601.2 615L601.2 619.5Z" stroke="#ff00ff" stroke-width="2" stroke-linejoin="round"/><circle cx="592.6" cy="504.4" r="4.3"/></g>
<path d="M117.6 574.5 H595.2" stroke="#ff0000" stroke-width="2" stroke-dasharray="12 5.9" fill="none"/>
<path d="M100.6 435 V617.8M84.1 616.8 H100.6M84.1 590.7 H100.6M84.1 565.3 H100.6M84.1 539 H100.6M84.1 512 H100.6M84.1 487.7 H100.6M84.1 460.7 H100.6M84.1 436 H100.6M117.5 624.1 H599.7M118.5 624.1 V639.1M149.9 624.1 V639.1M203.7 624.1 V639.1M246.1 624.1 V639.1M290.9 624.1 V639.1M329.2 624.1 V639.1M367.2 624.1 V639.1M407.6 624.1 V639.1M441.3 624.1 V639.1M466 624.1 V639.1M485.9 624.1 V639.1M512.9 624.1 V639.1M546.5 624.1 V639.1M573.4 624.1 V639.1M593.6 624.1 V639.1" stroke="#000" stroke-width="2.3" fill="none"/>
<text class="b" transform="translate(72 629.9) scale(1.06 1)" text-anchor="end">0</text>
<text class="b" transform="translate(72 578) scale(1.06 1)" text-anchor="end">4</text>
<text class="b" transform="translate(72 526.6) scale(1.06 1)" text-anchor="end">8</text>
<text class="b" transform="translate(72 475.1) scale(1.06 1)" text-anchor="end">12</text>
<text class="b" transform="translate(116.6 672) scale(1.06 1)" text-anchor="middle">Chr</text>
<text class="b" transform="translate(202.7 672) scale(1.06 1)" text-anchor="middle">2</text>
<text class="b" transform="translate(290.2 672) scale(1.06 1)" text-anchor="middle">4</text>
<text class="b" transform="translate(366.2 672) scale(1.06 1)" text-anchor="middle">6</text>
<text class="b" transform="translate(440.4 672) scale(1.06 1)" text-anchor="middle">8</text>
<text class="b" transform="translate(511.1 672) scale(1.06 1)" text-anchor="middle">11</text>
<text class="b" transform="translate(593.6 672) scale(1.06 1)" text-anchor="middle">14</text>
<text class="r" transform="translate(34.3 585.1) rotate(-90) scale(0.85 1)" x="0.4 24.3 32.3 50.9" dy="2 -2 0 0">−log<tspan class="sub" x="68.5 81" dy="7">10</tspan><tspan x="95.7" dy="-7">(</tspan><tspan font-style="italic" x="110.7">p</tspan><tspan x="131.7">)</tspan></text>
<text class="t" x="358" y="406.5" text-anchor="middle">AWB</text>
</g>
<g transform="translate(0 0)">
<g fill="#4197d8"><path d="M120 998L120 994L122 987L124.6 982L124.6 958L133 957L132.6 974L138 980L148 983.6L157 981.6L167 979L179 978.4L182 984L181 994L181 998Z" stroke="#4197d8" stroke-width="2" stroke-linejoin="round"/><circle cx="135" cy="925.4" r="4.3"/><circle cx="131" cy="957" r="4.3"/><circle cx="126" cy="963" r="4.3"/><circle cx="146.4" cy="961" r="4.3"/><circle cx="163" cy="961" r="4.3"/><circle cx="169" cy="962" r="4.3"/><circle cx="178" cy="970" r="4.3"/><circle cx="164.4" cy="974.6" r="4.3"/><circle cx="142" cy="977" r="4.3"/></g>
<g fill="#f8c120"><path d="M178.6 998L178.6 994L180 988L184 984L191 983L199 986L205 981L210 973.6L218 971L222 975L224 984L224.6 994L224.6 998Z" stroke="#f8c120" stroke-width="2" stroke-linejoin="round"/><circle cx="195.6" cy="958" r="4.3"/><circle cx="211" cy="961" r="4.3"/><circle cx="220.6" cy="957" r="4.3"/><circle cx="223" cy="965" r="4.3"/><circle cx="195" cy="977" r="4.3"/><circle cx="200.6" cy="977" r="4.3"/></g>
<g fill="#413496"><path d="M223 998L223 994L224 981.6L235 981L237.4 973L245 971L247.4 977L252 983L260 982L264.6 978.4L269 981L269.4 994L269.4 998Z" stroke="#413496" stroke-width="2" stroke-linejoin="round"/><circle cx="233.6" cy="927.4" r="4.3"/><circle cx="249.6" cy="943.4" r="4.3"/><circle cx="231.4" cy="957" r="4.3"/><path d="M253.4 973.6L260.6 969.4" fill="none" stroke="#413496" stroke-width="8.6" stroke-linecap="round" stroke-linejoin="round"/></g>
<g fill="#00ee00"><path d="M268 998L268 994L269.4 987L274 983.6L283 982L292 979.6L300 975.6L305 970L310 970L312 984L312 994L312 998Z" stroke="#00ee00" stroke-width="2" stroke-linejoin="round"/><circle cx="303.4" cy="891.6" r="4.3"/><circle cx="308" cy="907.6" r="4.3"/><circle cx="276.4" cy="961" r="4.3"/><circle cx="281" cy="974" r="4.3"/><path d="M293.4 962.6L301.6 951.4" fill="none" stroke="#00ee00" stroke-width="8.6" stroke-linecap="round" stroke-linejoin="round"/><path d="M302 971L308.6 964.4" fill="none" stroke="#00ee00" stroke-width="8.6" stroke-linecap="round" stroke-linejoin="round"/></g>
<g fill="#d60b6f"><path d="M311 998L311 994L313 984L314.6 973L320 970L327 974L333 970L337 966.4L342 974L345.4 984L345 994L345 998Z" stroke="#d60b6f" stroke-width="2" stroke-linejoin="round"/><circle cx="317" cy="867" r="4.3"/><circle cx="337" cy="949" r="4.3"/><circle cx="338" cy="958" r="4.3"/><path d="M318.6 960L325 964L328.6 972" fill="none" stroke="#d60b6f" stroke-width="8.6" stroke-linecap="round" stroke-linejoin="round"/></g>
<g fill="#2f4f4f"><path d="M344.6 998L344.6 994L347 987L352 984L363 982.4L371 978.4L375 968L380 964L385 967L387.4 976L387 994L387 998Z" stroke="#2f4f4f" stroke-width="2" stroke-linejoin="round"/><circle cx="354.6" cy="925.4" r="4.3"/><circle cx="384" cy="957" r="4.3"/><path d="M357 949.4L365 956L374 959L365 963L356 968L362 975.6" fill="none" stroke="#2f4f4f" stroke-width="8.6" stroke-linecap="round" stroke-linejoin="round"/></g>
<g fill="#d581b7"><path d="M386.6 998L386.6 994L388 976L388.6 964L394 962L395.4 974L399 980L404 971L411 971L417 975L426 976L429 984L430.6 994L430.6 998Z" stroke="#d581b7" stroke-width="2" stroke-linejoin="round"/><circle cx="390.6" cy="909.4" r="4.3"/><circle cx="416.6" cy="909.4" r="4.3"/><circle cx="420.6" cy="909.4" r="4.3"/><circle cx="393" cy="925.4" r="4.3"/><circle cx="397.4" cy="943.4" r="4.3"/><circle cx="391" cy="961" r="4.3"/><circle cx="418" cy="961" r="4.3"/><circle cx="424" cy="961" r="4.3"/></g>
<g fill="#83d3ad"><path d="M436 998L436 994L437 984L438.6 974L443.4 969.6L446 962L449.4 958.4L453 962L452.6 969L449.4 976L454 984L455 994L455 998Z" stroke="#83d3ad" stroke-width="2" stroke-linejoin="round"/><circle cx="442.4" cy="925.4" r="4.3"/><circle cx="444.4" cy="936.6" r="4.3"/></g>
<g fill="#7c162c"><path d="M454 998L454 994L456 983L469 980.4L474 972.4L478.6 974L479 994L479 998Z" stroke="#7c162c" stroke-width="2" stroke-linejoin="round"/><circle cx="471.4" cy="943.4" r="4.3"/><path d="M460 959L467 966L474 956" fill="none" stroke="#7c162c" stroke-width="8.6" stroke-linecap="round" stroke-linejoin="round"/></g>
<g fill="#ff0000"><path d="M476.6 998L476.6 994L479 984L482 976L488 971L493 976L493.4 994L493.4 998Z" stroke="#ff0000" stroke-width="2" stroke-linejoin="round"/><circle cx="485" cy="925.4" r="4.3"/><circle cx="491.4" cy="943.4" r="4.3"/><circle cx="480.6" cy="952" r="4.3"/><circle cx="481" cy="957" r="4.3"/><circle cx="489" cy="969" r="4.3"/></g>
<g fill="#6e6e6e"><path d="M492 998L492 994L493 983L499 979.6L505 975L517 975.6L525 970.4L531 970.4L534 978L534 994L534 998Z" stroke="#6e6e6e" stroke-width="2" stroke-linejoin="round"/><circle cx="516.4" cy="829" r="4.3"/><circle cx="505" cy="905.4" r="4.3"/><circle cx="496" cy="957" r="4.3"/><circle cx="505" cy="954" r="4.3"/><circle cx="514" cy="952" r="4.3"/><circle cx="505" cy="961" r="4.3"/><circle cx="514" cy="957" r="4.3"/><circle cx="527.4" cy="961" r="4.3"/><circle cx="498" cy="970" r="4.3"/><path d="M526.4 918.6L532.6 913.4" fill="none" stroke="#6e6e6e" stroke-width="8.6" stroke-linecap="round" stroke-linejoin="round"/></g>
<g fill="#00e5ee"><path d="M532 998L532 994L534 980L535 964L538.6 958.4L542.6 963L544.6 975L548 972L549.4 958L553 954L556.6 958L557.4 976L558.6 994L558.6 998Z" stroke="#00e5ee" stroke-width="2" stroke-linejoin="round"/><circle cx="538.6" cy="891.6" r="4.3"/><circle cx="551.6" cy="947.6" r="4.3"/><circle cx="555" cy="947.6" r="4.3"/><path d="M545 933L548 925.4" fill="none" stroke="#00e5ee" stroke-width="8.6" stroke-linecap="round" stroke-linejoin="round"/></g>
<g fill="#000000"><path d="M557 998L557 994L559 986L564 981L572 978L581 979.6L589 985L590 994L590 998Z" stroke="#000000" stroke-width="2" stroke-linejoin="round"/><circle cx="581.6" cy="963" r="4.3"/><circle cx="567.4" cy="974" r="4.3"/><circle cx="583" cy="970" r="4.3"/><circle cx="579" cy="976" r="4.3"/></g>
<g fill="#ff00ff"><path d="M588 998L588 995L589 982L591 976L598 975.6L601 981L601 995L601 998Z" stroke="#ff00ff" stroke-width="2" stroke-linejoin="round"/><circle cx="592.6" cy="891.6" r="4.3"/><circle cx="592.6" cy="965.6" r="4.3"/></g>
<path d="M119.7 953 H596.7" stroke="#ff0000" stroke-width="2" stroke-dasharray="12 5.9" fill="none"/>
<path d="M100.6 813.2 V996.3M85.8 995.3 H100.6M85.8 971.2 H100.6M85.8 944.2 H100.6M85.8 919.4 H100.6M85.8 892.5 H100.6M85.8 866 H100.6M85.8 840.8 H100.6M85.8 814.2 H100.6M119.8 1002.5 H599M120.8 1002.5 V1019.2M152 1002.5 V1019.2M203.3 1002.5 V1019.2M248.3 1002.5 V1019.2M290.8 1002.5 V1019.2M329 1002.5 V1019.2M366.8 1002.5 V1019.2M409.5 1002.5 V1019.2M443.3 1002.5 V1019.2M467.8 1002.5 V1019.2M488 1002.5 V1019.2M515 1002.5 V1019.2M548.7 1002.5 V1019.2M575.3 1002.5 V1019.2M595.8 1002.5 V1019.2" stroke="#000" stroke-width="2.3" fill="none"/>
<text class="b" transform="translate(72.6 1010.1) scale(1.06 1)" text-anchor="end">0</text>
<text class="b" transform="translate(72.6 958.8) scale(1.06 1)" text-anchor="end">4</text>
<text class="b" transform="translate(72.6 904.9) scale(1.06 1)" text-anchor="end">8</text>
<text class="b" transform="translate(72.6 853.5) scale(1.06 1)" text-anchor="end">12</text>
<text class="b" transform="translate(119.3 1051.7) scale(1.06 1)" text-anchor="middle">Chr</text>
<text class="b" transform="translate(202.8 1051.7) scale(1.06 1)" text-anchor="middle">2</text>
<text class="b" transform="translate(290.3 1051.7) scale(1.06 1)" text-anchor="middle">4</text>
<text class="b" transform="translate(366 1051.7) scale(1.06 1)" text-anchor="middle">6</text>
<text class="b" transform="translate(442.3 1051.7) scale(1.06 1)" text-anchor="middle">8</text>
<text class="b" transform="translate(513 1051.7) scale(1.06 1)" text-anchor="middle">11</text>
<text class="b" transform="translate(595.4 1051.7) scale(1.06 1)" text-anchor="middle">14</text>
<text class="r" transform="translate(29.8 965.9) rotate(-90) scale(0.85 1)" x="0.4 24.3 32.3 50.9" dy="2 -2 0 0">−log<tspan class="sub" x="68.5 81" dy="7">10</tspan><tspan x="95.7" dy="-7">(</tspan><tspan font-style="italic" x="110.7">p</tspan><tspan x="131.7">)</tspan></text>
<text class="t" x="361.5" y="785.5" text-anchor="middle">AWW</text>
</g>
<g transform="translate(696.8 0)">
<g fill="#4197d8"><path d="M118.2 998L118.2 994L118.8 978L124.2 970.4L131.2 967L135.2 974L142.2 971L146.2 972L148.8 981L153.2 982L158.2 975L163.2 969.6L168.2 970L174.2 976.4L178.2 984L179.6 994L179.6 998Z" stroke="#4197d8" stroke-width="2" stroke-linejoin="round"/><circle cx="173.6" cy="907.4" r="4.3"/><circle cx="137.6" cy="920.6" r="4.3"/><circle cx="144.2" cy="940.6" r="4.3"/><circle cx="153.2" cy="936" r="4.3"/><circle cx="162.2" cy="938.4" r="4.3"/><circle cx="169.2" cy="936" r="4.3"/><circle cx="144.2" cy="952.4" r="4.3"/><circle cx="144.2" cy="958" r="4.3"/><circle cx="153.2" cy="959" r="4.3"/><circle cx="175.6" cy="959" r="4.3"/><circle cx="164.6" cy="965" r="4.3"/><circle cx="133.2" cy="967" r="4.3"/></g>
<g fill="#f8c120"><path d="M178.2 998L178.2 994L180.2 987L184.2 979.6L190.2 974.4L198.2 974L202.8 979.6L207.2 974.4L212.2 975L215.2 978L220.2 974L225.2 976L226.2 994L226.2 998Z" stroke="#f8c120" stroke-width="2" stroke-linejoin="round"/><circle cx="189.2" cy="954.4" r="4.3"/><path d="M190.8 937L194.2 934.4" fill="none" stroke="#f8c120" stroke-width="8.6" stroke-linecap="round" stroke-linejoin="round"/></g>
<g fill="#413496"><path d="M223.2 998L223.2 994L224.2 983L227.6 964L231.2 958.4L234.8 961L238.2 968L243.2 973L248.2 981L253.2 984L256.2 973L260.2 969L267.2 969L268.8 994L268.8 998Z" stroke="#413496" stroke-width="2" stroke-linejoin="round"/><circle cx="256.6" cy="920.6" r="4.3"/><circle cx="249.8" cy="938.6" r="4.3"/><circle cx="265.2" cy="959" r="4.3"/></g>
<g fill="#00ee00"><path d="M266.2 998L266.2 994L268.2 984L269.2 973L273.2 969.6L279.2 973L284.2 980L289.2 973L294.2 969L300.2 974L305.2 974L311.2 983L312.2 994L312.2 998Z" stroke="#00ee00" stroke-width="2" stroke-linejoin="round"/><circle cx="292.2" cy="929.6" r="4.3"/><circle cx="292.2" cy="959" r="4.3"/></g>
<g fill="#d60b6f"><path d="M310.8 998L310.8 994L312.8 982L315.2 976L320.2 972L324.2 976L326.2 980.4L331.2 974.4L338.2 971L344.2 974L345.2 994L345.2 998Z" stroke="#d60b6f" stroke-width="2" stroke-linejoin="round"/><circle cx="314.6" cy="885" r="4.3"/><circle cx="321.2" cy="903" r="4.3"/><circle cx="314.6" cy="918.6" r="4.3"/><circle cx="314.6" cy="961" r="4.3"/><path d="M333.6 964.4L340.8 969" fill="none" stroke="#d60b6f" stroke-width="8.6" stroke-linecap="round" stroke-linejoin="round"/></g>
<g fill="#2f4f4f"><path d="M344.2 998L344.2 994L345.2 976L348.2 971L355.2 974L359.2 965L363.2 961L367.6 962L369.6 973L375.2 970L382.2 975L386.2 983L386.8 994L386.8 998Z" stroke="#2f4f4f" stroke-width="2" stroke-linejoin="round"/><circle cx="384.2" cy="876" r="4.3"/><circle cx="366.2" cy="950" r="4.3"/><circle cx="355.2" cy="957" r="4.3"/><circle cx="375.2" cy="961" r="4.3"/><path d="M370.2 935.4L377.8 938.4" fill="none" stroke="#2f4f4f" stroke-width="8.6" stroke-linecap="round" stroke-linejoin="round"/></g>
<g fill="#d581b7"><path d="M385.2 998L385.2 994L386.8 980L389.6 973.6L395.2 972L398.8 980L400.2 985L404.2 976.4L413.2 974L416.2 967L424.8 967L428.2 976L428.8 994L428.8 998Z" stroke="#d581b7" stroke-width="2" stroke-linejoin="round"/><circle cx="422.2" cy="932" r="4.3"/><circle cx="390.8" cy="961" r="4.3"/><circle cx="422.2" cy="959" r="4.3"/></g>
<g fill="#83d3ad"><path d="M435.6 998L435.6 994L436.8 980L439.6 974L447.2 972L451.6 969L454.8 974L455.2 994L455.2 998Z" stroke="#83d3ad" stroke-width="2" stroke-linejoin="round"/><circle cx="444.6" cy="932" r="4.3"/><circle cx="453.8" cy="936.4" r="4.3"/><circle cx="451.2" cy="947.6" r="4.3"/></g>
<g fill="#7c162c"><path d="M454.2 998L454.2 994L456.2 980L457.6 973L463.2 971L466.2 978L469.2 982L472.8 970L476.8 966.4L479.6 970L479.2 994L479.2 998Z" stroke="#7c162c" stroke-width="2" stroke-linejoin="round"/><circle cx="460.6" cy="947.6" r="4.3"/></g>
<g fill="#ff0000"><path d="M476.2 998L476.2 994L477.6 986L482.2 979L486.2 971L493.2 966.4L495.6 971L492.2 982L493.2 994L493.2 998Z" stroke="#ff0000" stroke-width="2" stroke-linejoin="round"/></g>
<g fill="#6e6e6e"><path d="M492.2 998L492.2 994L493.6 987L499.2 980L508.2 975.6L516.2 977L522.8 981.6L526.2 975L531.2 971.6L534.2 976L534.2 994L534.2 998Z" stroke="#6e6e6e" stroke-width="2" stroke-linejoin="round"/><circle cx="507.2" cy="876" r="4.3"/><circle cx="496.2" cy="954.4" r="4.3"/><circle cx="527.6" cy="961" r="4.3"/></g>
<g fill="#00e5ee"><path d="M532.2 998L532.2 994L533.6 980L535.2 964L538.8 960L542.2 964L544.2 969.6L549.2 968L553.6 967L556.2 973.6L558.2 984L558.2 994L558.2 998Z" stroke="#00e5ee" stroke-width="2" stroke-linejoin="round"/></g>
<g fill="#000000"><path d="M556.8 998L556.8 994L558.2 976.4L565.2 972.4L579.2 970.4L585.2 974L588.2 983L588.2 994L588.2 998Z" stroke="#000000" stroke-width="2" stroke-linejoin="round"/><circle cx="574.2" cy="961" r="4.3"/><circle cx="583.2" cy="963" r="4.3"/><circle cx="578.8" cy="964" r="4.3"/></g>
<g fill="#ff00ff"><path d="M586.2 998L586.2 995L587.2 991L593.2 984L592.2 976L591.6 969L596.2 967L600.2 972L600.2 984L600.2 995L600.2 998Z" stroke="#ff00ff" stroke-width="2" stroke-linejoin="round"/></g>
<path d="M119.6 953 H597.2" stroke="#ff0000" stroke-width="2" stroke-dasharray="12 5.9" fill="none"/>
<path d="M100.6 813.2 V996.3M86 995.3 H100.6M86 971.2 H100.6M86 944.2 H100.6M86 919.4 H100.6M86 892.5 H100.6M86 866 H100.6M86 840.8 H100.6M86 814.2 H100.6M119.2 1002.5 H599M120.2 1002.5 V1019.2M152.2 1002.5 V1019.2M203.6 1002.5 V1019.2M248.2 1002.5 V1019.2M291.2 1002.5 V1019.2M329.2 1002.5 V1019.2M367.2 1002.5 V1019.2M407.4 1002.5 V1019.2M443.1 1002.5 V1019.2M468 1002.5 V1019.2M485.9 1002.5 V1019.2M514.8 1002.5 V1019.2M546.4 1002.5 V1019.2M573.3 1002.5 V1019.2M593.3 1002.5 V1019.2" stroke="#000" stroke-width="2.3" fill="none"/>
<text class="b" transform="translate(71.4 1010.1) scale(1.06 1)" text-anchor="end">0</text>
<text class="b" transform="translate(71.4 958.8) scale(1.06 1)" text-anchor="end">4</text>
<text class="b" transform="translate(71.4 904.9) scale(1.06 1)" text-anchor="end">8</text>
<text class="b" transform="translate(71.4 853.5) scale(1.06 1)" text-anchor="end">12</text>
<text class="b" transform="translate(118.7 1051.7) scale(1.06 1)" text-anchor="middle">Chr</text>
<text class="b" transform="translate(203 1051.7) scale(1.06 1)" text-anchor="middle">2</text>
<text class="b" transform="translate(289.8 1051.7) scale(1.06 1)" text-anchor="middle">4</text>
<text class="b" transform="translate(366.1 1051.7) scale(1.06 1)" text-anchor="middle">6</text>
<text class="b" transform="translate(442.4 1051.7) scale(1.06 1)" text-anchor="middle">8</text>
<text class="b" transform="translate(512.8 1051.7) scale(1.06 1)" text-anchor="middle">11</text>
<text class="b" transform="translate(593.8 1051.7) scale(1.06 1)" text-anchor="middle">14</text>
<text class="r" transform="translate(29.8 965.9) rotate(-90) scale(0.85 1)" x="0.4 24.3 32.3 50.9" dy="2 -2 0 0">−log<tspan class="sub" x="68.5 81" dy="7">10</tspan><tspan x="95.7" dy="-7">(</tspan><tspan font-style="italic" x="110.7">p</tspan><tspan x="131.7">)</tspan></text>
<text class="t" x="358.3" y="785.5" text-anchor="middle">SW</text>
</g>
</svg>
</body>
</html>
